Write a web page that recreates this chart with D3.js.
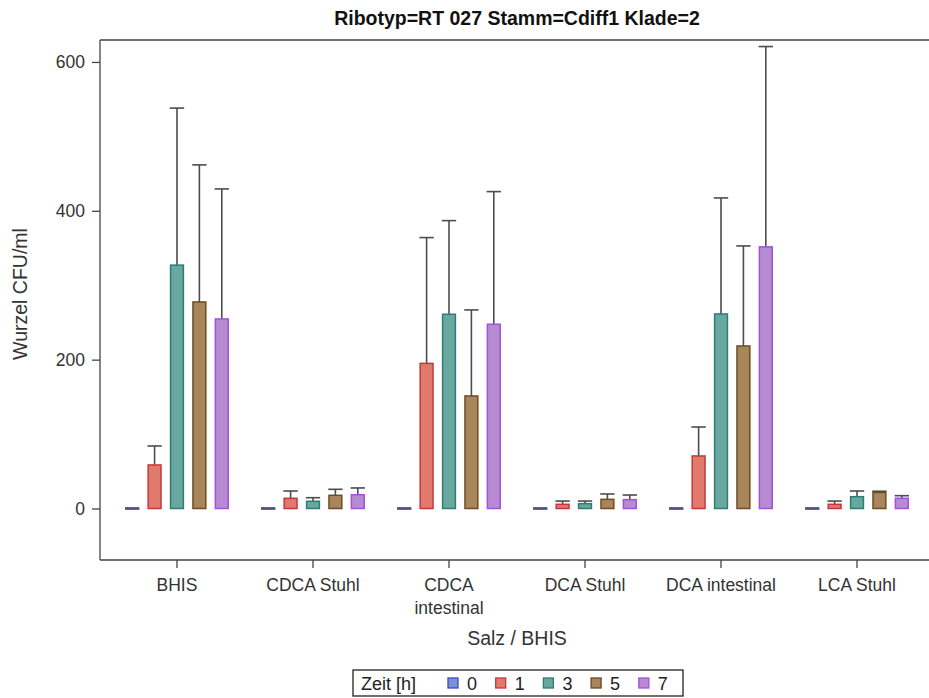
<!DOCTYPE html>
<html>
<head>
<meta charset="utf-8">
<script src="https://cdn.jsdelivr.net/npm/d3@7/dist/d3.min.js"></script>
<style>
  html, body { margin: 0; padding: 0; background: #fff; }
  svg { display: block; font-family: "Liberation Sans", Arial, sans-serif; }
</style>
</head>
<body>
<svg id="chart" width="929" height="698"></svg>
<script>
// Categories (salt / medium) and time points
const categories = ["BHIS", "CDCA Stuhl", "CDCA intestinal", "DCA Stuhl", "DCA intestinal", "LCA Stuhl"];
const timepoints = ["0", "1", "3", "5", "7"];

// Mean square-root CFU/ml per time point, in category order
const mean0 = [0, 0, 0, 0, 0, 0];
const mean1 = [58.5, 13.7, 195, 5.6, 70.6, 5.6];
const mean3 = [327, 9.7, 261, 6.5, 261.4, 15.9];
const mean5 = [277.5, 17.7, 151.2, 12.3, 218.4, 21.6];
const mean7 = [254.7, 18.5, 247.6, 11.9, 351.5, 13.7];

// Upper error limit per time point, in category order
const upper0 = [0, 0, 0, 0, 0, 0];
const upper1 = [84, 23.5, 364, 10, 109.5, 10];
const upper3 = [538, 14.5, 386.8, 10, 417.3, 23.5];
const upper5 = [461.7, 25.8, 266.8, 19.5, 352.8, 23.2];
const upper7 = [429.4, 27.6, 425.8, 18.1, 620.7, 17.2];

// Y axis ticks
const yTicks = [0, 200, 400, 600];

const means = [mean0, mean1, mean3, mean5, mean7];
const uppers = [upper0, upper1, upper3, upper5, upper7];

const fills = ["#7b90d5", "#e07a6c", "#68a89e", "#a8855a", "#b68bd0"];
const strokes = ["#3c4cc0", "#c8363c", "#2e7d72", "#6e4b22", "#a250e0"];

const valueFont = "17.5px";
const labelFont = "19.5px";

const svg = d3.select("#chart");
const plot = { left: 100, right: 934, top: 40, bottom: 560 };

const x0 = d3.scaleBand()
  .domain(categories)
  .range([plot.left, plot.right])
  .paddingOuter(0.066)
  .paddingInner(0);

const bw = x0.bandwidth();
const x1 = d3.scaleBand()
  .domain(timepoints)
  .range([bw / 2 - 56, bw / 2 + 56])
  .paddingInner(0.36)
  .paddingOuter(0.18);

const y = d3.scaleLinear()
  .domain([-69.2, 629.5])
  .range([plot.bottom, plot.top]);

const rows = [];
timepoints.forEach((t, ti) => {
  categories.forEach((c, ci) => {
    rows.push({ t, ti, c, v: means[ti][ci], hi: uppers[ti][ci] });
  });
});

// Error bars (upper only), drawn behind the bars
const eb = svg.append("g").attr("class", "errorbars")
  .attr("stroke", "#3a3a3a").attr("stroke-width", 1.6).attr("opacity", 0.9);
rows.filter(d => d.hi > d.v).forEach(d => {
  const cx = x0(d.c) + x1(d.t) + x1.bandwidth() / 2;
  eb.append("line")
    .attr("x1", cx).attr("x2", cx)
    .attr("y1", y(d.v)).attr("y2", y(d.hi));
  eb.append("line")
    .attr("x1", cx - x1.bandwidth() / 2).attr("x2", cx + x1.bandwidth() / 2)
    .attr("y1", y(d.hi)).attr("y2", y(d.hi));
});

// Bars (zero-height bars still show their outline as a flat line)
svg.append("g").attr("class", "bars")
  .selectAll("rect")
  .data(rows)
  .join("rect")
  .attr("x", d => x0(d.c) + x1(d.t) + 0.75)
  .attr("width", x1.bandwidth() - 1.5)
  .attr("y", d => d.v === 0 ? y(0) - 0.6 : y(Math.max(0, d.v)))
  .attr("height", d => Math.max(1.2, Math.abs(y(0) - y(d.v))))
  .attr("fill", d => fills[d.ti])
  .attr("stroke", d => d.v === 0 ? "#4a4f82" : strokes[d.ti])
  .attr("stroke-width", 1.5);

// Frame
const frame = svg.append("g").attr("stroke", "#444").attr("stroke-width", 1.3).attr("fill", "none");
frame.append("line").attr("x1", plot.left).attr("x2", plot.left).attr("y1", plot.top).attr("y2", plot.bottom);
frame.append("line").attr("x1", plot.left).attr("x2", plot.right).attr("y1", plot.top).attr("y2", plot.top);
frame.append("line").attr("x1", plot.left).attr("x2", plot.right).attr("y1", plot.bottom).attr("y2", plot.bottom);
frame.append("line").attr("x1", plot.right).attr("x2", plot.right).attr("y1", plot.top).attr("y2", plot.bottom);

// Y axis
const yAxis = svg.append("g")
  .attr("transform", `translate(${plot.left},0)`)
  .call(d3.axisLeft(y).tickValues(yTicks).tickSize(8).tickPadding(7));
yAxis.select(".domain").remove();
yAxis.selectAll(".tick line").attr("stroke", "#444").attr("stroke-width", 1.3);
yAxis.selectAll(".tick text").attr("fill", "#333").style("font-size", valueFont);

// X axis
const xAxis = svg.append("g")
  .attr("transform", `translate(0,${plot.bottom})`)
  .call(d3.axisBottom(x0).tickSize(8).tickPadding(11));
xAxis.select(".domain").remove();
xAxis.selectAll(".tick line").attr("stroke", "#444").attr("stroke-width", 1.3);
xAxis.selectAll(".tick text")
  .attr("fill", "#333")
  .style("font-size", valueFont)
  .each(function (d) {
    if (d === "CDCA intestinal") {
      const t = d3.select(this);
      const dy = t.attr("dy");
      t.text(null);
      t.append("tspan").attr("x", 0).attr("dy", dy).text("CDCA");
      t.append("tspan").attr("x", 0).attr("dy", "1.3em").text("intestinal");
    }
  });

// Title and axis titles
const midX = (plot.left + plot.right) / 2;
svg.append("text")
  .attr("x", midX).attr("y", 25)
  .attr("text-anchor", "middle")
  .style("font-size", labelFont).style("font-weight", "bold")
  .attr("fill", "#111")
  .text("Ribotyp=RT 027 Stamm=Cdiff1 Klade=2");

svg.append("text")
  .attr("x", midX).attr("y", 645)
  .attr("text-anchor", "middle")
  .style("font-size", labelFont)
  .attr("fill", "#333")
  .text("Salz / BHIS");

svg.append("text")
  .attr("transform", `translate(27,${(plot.top + plot.bottom) / 2 - 6}) rotate(-90)`)
  .attr("text-anchor", "middle")
  .style("font-size", labelFont)
  .attr("fill", "#333")
  .text("Wurzel CFU/ml");

// Legend
const lg = svg.append("g").attr("transform", "translate(353,670)");
lg.append("rect").attr("width", 330).attr("height", 26)
  .attr("fill", "#fff").attr("stroke", "#222").attr("stroke-width", 1.3);
lg.append("text").attr("x", 8).attr("y", 19.5)
  .style("font-size", "18px").attr("fill", "#222").text("Zeit [h]");
timepoints.forEach((t, i) => {
  const gx = 95 + i * 47.7;
  lg.append("rect")
    .attr("x", gx).attr("y", 8).attr("width", 10).attr("height", 10)
    .attr("fill", fills[i]).attr("stroke", strokes[i]).attr("stroke-width", 1.3);
  lg.append("text").attr("x", gx + 19).attr("y", 19.5)
    .style("font-size", "18px").attr("fill", "#222").text(t);
});
</script>
</body>
</html>
